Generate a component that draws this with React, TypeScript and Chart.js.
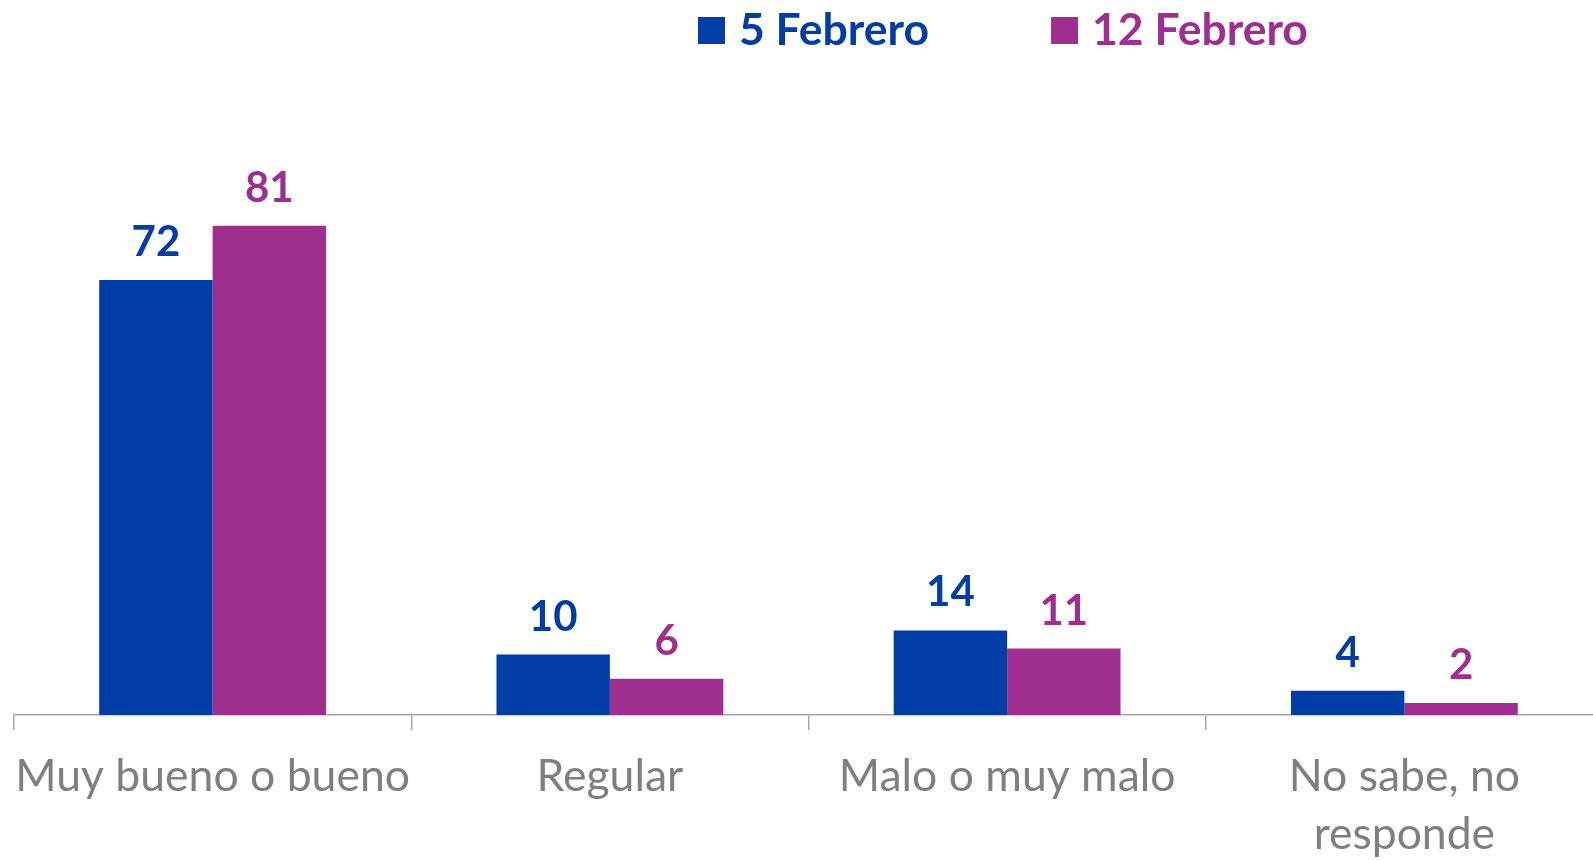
import { useEffect, useRef } from "react";
import { Chart, registerables } from "chart.js";

Chart.register(...registerables);

const categories: string[][] = [
  ["Muy bueno o bueno"],
  ["Regular"],
  ["Malo o muy malo"],
  ["No sabe, no", "responde"],
];
const seriesNames = ["5 Febrero", "12 Febrero"];
const febrero5 = [72, 10, 14, 4];
const febrero12 = [81, 6, 11, 2];
const seriesColors = ["#003DA6", "#9E2F8E"];

const FONT = "Lato, 'Noto Sans', sans-serif";

const valueLabels = {
  id: "valueLabels",
  afterDatasetsDraw(chart: any) {
    const ctx = chart.ctx;
    chart.data.datasets.forEach((ds: any, i: number) => {
      const meta = chart.getDatasetMeta(i);
      meta.data.forEach((bar: any, j: number) => {
        ctx.save();
        ctx.font = `bold 42px ${FONT}`;
        ctx.fillStyle = ds.backgroundColor;
        ctx.textAlign = "center";
        ctx.textBaseline = "alphabetic";
        ctx.fillText(String(ds.data[j]), bar.x, bar.y - 24);
        ctx.restore();
      });
    });
  },
};

const customLegend = {
  id: "customLegend",
  afterDraw(chart: any) {
    const ctx = chart.ctx;
    let x = 698;
    const boxTop = 17;
    const box = 27;
    chart.data.datasets.forEach((ds: any) => {
      ctx.save();
      ctx.fillStyle = ds.backgroundColor;
      ctx.fillRect(x, boxTop, box, box);
      ctx.font = `bold 44.5px ${FONT}`;
      ctx.textAlign = "left";
      ctx.textBaseline = "alphabetic";
      const tx = x + 41;
      ctx.fillText(ds.label, tx, 45);
      const w = ctx.measureText(ds.label).width;
      ctx.restore();
      x = tx + w + 122;
    });
  },
};

export default function App() {
  const ref = useRef<HTMLCanvasElement | null>(null);

  useEffect(() => {
    if (!ref.current) return;
    const chart = new Chart(ref.current, {
      type: "bar",
      data: {
        labels: categories,
        datasets: [
          { label: seriesNames[0], data: febrero5, backgroundColor: seriesColors[0] },
          { label: seriesNames[1], data: febrero12, backgroundColor: seriesColors[1] },
        ],
      },
      options: {
        animation: false,
        responsive: false,
        maintainAspectRatio: false,
        events: [],
        layout: { padding: { left: 14, right: 17, top: 111, bottom: 0 } },
        datasets: {
          bar: { categoryPercentage: 0.571, barPercentage: 1, borderWidth: 0 },
        },
        plugins: {
          legend: { display: false },
          tooltip: { enabled: false },
        },
        scales: {
          x: {
            grid: {
              offset: true,
              drawOnChartArea: false,
              tickLength: 15,
              color: "#A6A6A6",
              lineWidth: 1.5,
            },
            border: { color: "#A6A6A6", width: 1.5 },
            ticks: {
              autoSkip: false,
              maxRotation: 0,
              minRotation: 0,
              color: "#7F7F7F",
              padding: 18,
              font: { family: FONT, size: 44.5, lineHeight: 1.303 },
            },
            afterFit(scale: any) {
              scale.height = 145;
              scale.paddingLeft = 0;
              scale.paddingRight = 0;
            },
          },
          y: {
            display: false,
            min: 0,
            max: 100,
          },
        },
      },
      plugins: [valueLabels, customLegend],
    });
    if ((document as any).fonts) {
      (document as any).fonts.load(`bold 42px Lato`).then(() => chart.update());
      (document as any).fonts.load(`42px Lato`).then(() => chart.update());
    }
    return () => chart.destroy();
  }, []);

  return (
    <div style={{ position: "fixed", left: 0, top: 0, width: 1593, height: 860, overflow: "hidden", background: "#fff" }}>
      <canvas ref={ref} width={1620} height={860} style={{ display: "block", width: 1620, height: 860 }} />
    </div>
  );
}
